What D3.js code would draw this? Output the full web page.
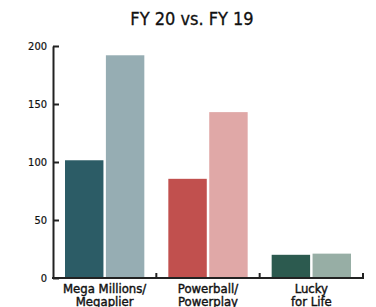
<!DOCTYPE html>
<html>
<head>
<meta charset="utf-8">
<script src="https://cdn.jsdelivr.net/npm/d3@7"></script>
<style>
  body { margin: 0; background: #fff; }
  text { font-family: "DejaVu Sans Condensed", "Liberation Sans Narrow", sans-serif; }
</style>
</head>
<body>
<div id="chart"></div>
<script>
// DATA
var categories = [["Mega Millions/", "Megaplier"], ["Powerball/", "Powerplay"], ["Lucky", "for Life"]];
var series = ["FY 20", "FY 19"];
var fy20 = [101.5, 85.5, 20];
var fy19 = [192, 143, 21];
var yTicks = [0, 50, 100, 150, 200];
var colours = [["#2c5c66", "#96adb3"], ["#c1504e", "#e0a8a7"], ["#2c5a4f", "#97aea5"]];

var width = 376, height = 307;
var margin = {top: 46, left: 53, right: 13, bottom: 29};

var svg = d3.select("#chart").append("svg")
    .attr("width", width)
    .attr("height", height);

// title
svg.append("text")
    .attr("x", 192).attr("y", 25)
    .attr("text-anchor", "middle")
    .style("font-size", "18px")
    .style("fill", "#111")
    .style("stroke", "#111").style("stroke-width", 0.3)
    .text("FY 20 vs. FY 19");

// scales
var x = d3.scaleBand()
    .domain(d3.range(categories.length))
    .range([margin.left, width - margin.right])
    .paddingInner(0).paddingOuter(0);

var xInner = d3.scaleBand()
    .domain(series)
    .range([12, x.bandwidth() - 12])
    .paddingInner(0.06);

var y = d3.scaleLinear()
    .domain([0, 200])
    .range([height - margin.bottom, margin.top]);

// bars
var groups = svg.selectAll("g.grp")
    .data(categories)
    .enter().append("g")
    .attr("class", "grp")
    .attr("transform", function(d, i) { return "translate(" + x(i) + ",0)"; });

groups.selectAll("rect")
    .data(function(d, i) {
      return [{s: series[0], v: fy20[i], c: colours[i][0]},
              {s: series[1], v: fy19[i], c: colours[i][1]}];
    })
    .enter().append("rect")
    .attr("x", function(d) { return xInner(d.s); })
    .attr("width", xInner.bandwidth())
    .attr("y", function(d) { return y(d.v); })
    .attr("height", function(d) { return y(0) - y(d.v); })
    .style("fill", function(d) { return d.c; });

// y axis (ticks point inward)
var yAxis = svg.append("g")
    .attr("transform", "translate(" + margin.left + ",0)")
    .call(d3.axisRight(y).tickValues(yTicks).tickSize(6).tickSizeOuter(0));
yAxis.select(".domain").attr("stroke", "#222").attr("stroke-width", 2);
yAxis.selectAll(".tick line").attr("stroke", "#222").attr("stroke-width", 2);
yAxis.selectAll(".tick text")
    .attr("x", -6)
    .attr("text-anchor", "end")
    .style("font-size", "11px")
    .style("fill", "#111")
    .style("stroke", "#111").style("stroke-width", 0.2);

// x axis
var base = y(0);
svg.append("line")
    .attr("x1", margin.left - 1).attr("x2", width - margin.right + 1)
    .attr("y1", base).attr("y2", base)
    .attr("stroke", "#222").attr("stroke-width", 2);

var bounds = d3.range(1, categories.length + 1).map(function(i) {
  return i < categories.length ? x(i) : x.range()[1];
});
svg.selectAll("line.xtick")
    .data(bounds)
    .enter().append("line")
    .attr("class", "xtick")
    .attr("x1", function(d) { return d; }).attr("x2", function(d) { return d; })
    .attr("y1", base).attr("y2", base - 5)
    .attr("stroke", "#222").attr("stroke-width", 2);

// category labels
var lbl = svg.selectAll("text.cat")
    .data(categories)
    .enter().append("text")
    .attr("class", "cat")
    .attr("text-anchor", "middle")
    .attr("x", function(d, i) { return x(i) + x.bandwidth() / 2; })
    .attr("y", base + 15)
    .style("font-size", "13px")
    .style("fill", "#111")
    .style("stroke", "#111").style("stroke-width", 0.4);
lbl.selectAll("tspan")
    .data(function(d) { return d; })
    .enter().append("tspan")
    .attr("x", function() { return d3.select(this.parentNode).attr("x"); })
    .attr("dy", function(d, i) { return i ? 13 : 0; })
    .text(function(d) { return d; });
</script>
</body>
</html>
